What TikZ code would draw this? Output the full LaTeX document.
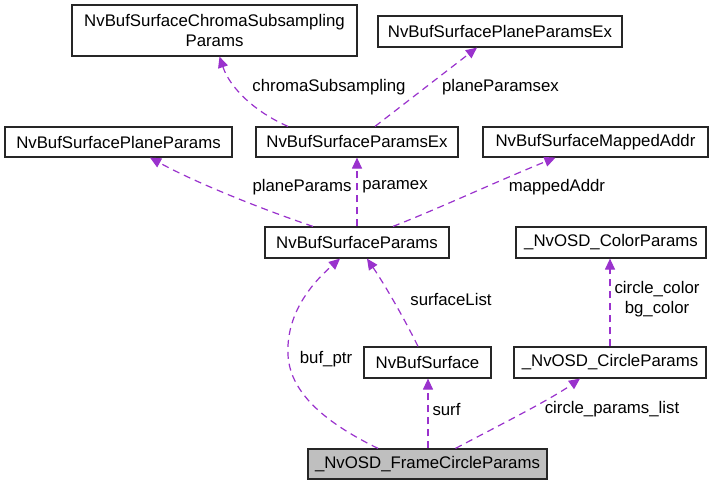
\documentclass[tikz,border=0pt]{standalone}
\usepackage{fontspec}
\setmainfont{Liberation Sans}
\usetikzlibrary{arrows.meta}
\definecolor{edgepurple}{HTML}{9A32CD}
\definecolor{boxgray}{HTML}{BFBFBF}
\tikzset{
  box/.style={draw=black!85, line width=1.2pt, fill=white, inner sep=0pt, align=center, font=\fontsize{16.8}{19.5}\selectfont},
  rel/.style={draw=edgepurple, line width=1.2pt, dash pattern=on 7pt off 5pt, -{Triangle[length=11pt,width=10pt]}},
  lbl/.style={inner sep=0pt, align=center, font=\fontsize{16.8}{20}\selectfont}
}
\begin{document}
\begin{tikzpicture}[x=1pt,y=-1pt]
\useasboundingbox (0,0) rectangle (712,485);
\fill[white] (0,0) rectangle (712,485);
% nodes
\node[box, minimum width=285pt, minimum height=51pt] (chroma) at (214.5,30.5) {NvBufSurfaceChromaSubsampling\\Params};
\node[box, minimum width=244pt, minimum height=31pt] (ppex) at (500,31.5) {NvBufSurfacePlaneParamsEx};
\node[box, minimum width=227pt, minimum height=30pt] (pp) at (118.5,142) {NvBufSurfacePlaneParams};
\node[box, minimum width=202pt, minimum height=30pt] (pex) at (357,142) {NvBufSurfaceParamsEx};
\node[box, minimum width=225pt, minimum height=30pt] (maddr) at (595.5,142) {NvBufSurfaceMappedAddr};
\node[box, minimum width=184pt, minimum height=31pt] (params) at (357,242.5) {NvBufSurfaceParams};
\node[box, minimum width=190pt, minimum height=31pt] (color) at (611,242.5) {\_NvOSD\_ColorParams};
\node[box, minimum width=127pt, minimum height=31pt] (surface) at (427.5,362.5) {NvBufSurface};
\node[box, minimum width=192pt, minimum height=31pt] (circle) at (610,362.5) {\_NvOSD\_CircleParams};
\node[box, fill=boxgray, minimum width=239pt, minimum height=30pt] (frame) at (427.5,464) {\_NvOSD\_FrameCircleParams};
% edges
\draw[rel] ([xshift=-69pt]pex.north) .. controls (255,112) and (230,88) .. ([xshift=5pt]chroma.south);
\draw[rel] ([xshift=18pt]pex.north) -- ([xshift=-23pt]ppex.south);
\draw[rel] ([xshift=-44pt]params.north) .. controls (270,212) and (200,185) .. ([xshift=31.5pt]pp.south);
\draw[rel] (params.north) -- (pex.south);
\draw[rel] ([xshift=36pt]params.north) .. controls (440,208) and (500,180) .. ([xshift=-40pt]maddr.south);
\draw[rel] ([xshift=-49.5pt]frame.north) .. controls (330,425) and (290,395) .. (288,355) .. controls (286,315) and (310,285) .. ([xshift=-17pt]params.south);
\draw[rel] ([xshift=-9.5pt]surface.north) .. controls (405,320) and (385,285) .. ([xshift=10pt]params.south);
\draw[rel] ([xshift=0.5pt]frame.north) -- ([xshift=0.5pt]surface.south);
\draw[rel] ([xshift=28pt]frame.north) .. controls (490,430) and (550,400) .. ([xshift=-30pt]circle.south);
\draw[rel] (circle.north) -- ([xshift=-1pt]color.south);
% labels
\node[lbl] (l1) at (329,87) {chromaSubsampling};
\node[lbl] (l2) at (500.5,87) {planeParamsex};
\node[lbl] (l3) at (302,187) {planeParams};
\node[lbl] (l4) at (395,187) {paramex};
\node[lbl] (l5) at (557,187) {mappedAddr};
\node[lbl] (l6) at (451,299) {surfaceList};
\node[lbl] (l7) at (326,359) {buf\_ptr};
\node[lbl] (l8) at (446.5,409) {surf};
\node[lbl] (l9) at (612,409) {circle\_params\_list};
\node[lbl] (l10) at (657,299) {circle\_color\\bg\_color};
\end{tikzpicture}
\end{document}
